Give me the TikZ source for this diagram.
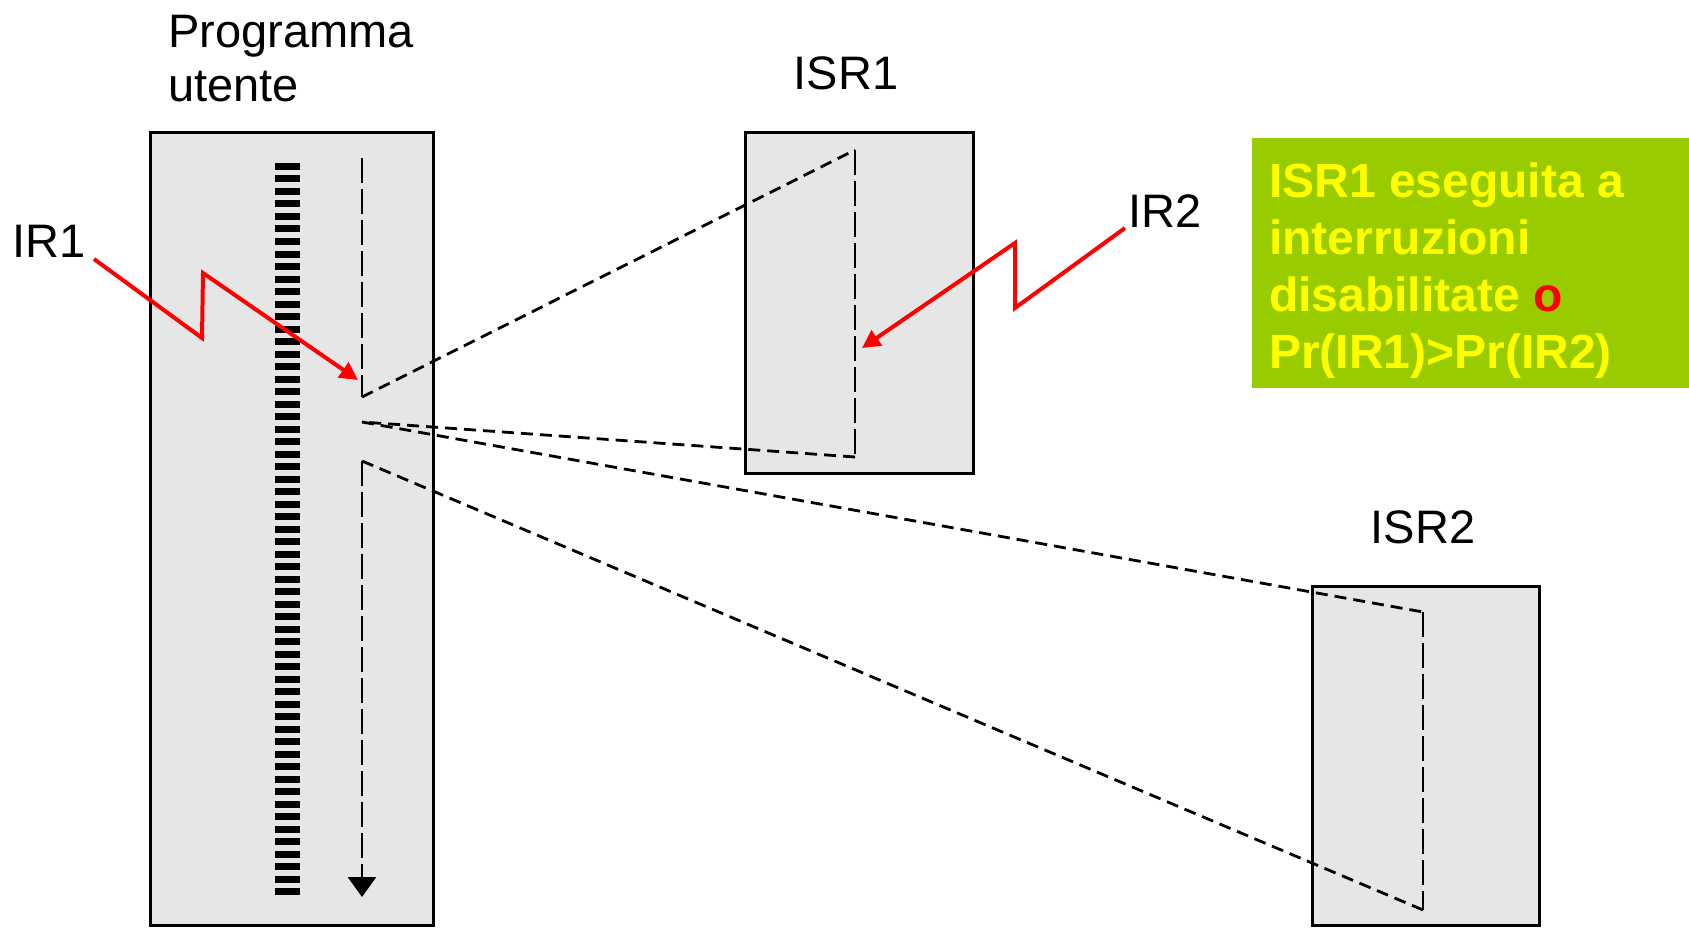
\documentclass[tikz,border=0pt]{standalone}
\usepackage{fontspec}
\setmainfont{Liberation Sans}
\usetikzlibrary{arrows.meta}
\definecolor{boxgray}{RGB}{230,230,230}
\definecolor{notegreen}{RGB}{153,204,0}
\definecolor{noteyellow}{RGB}{255,255,0}
\begin{document}
\begin{tikzpicture}[x=1pt,y=-1pt,
  routine/.style={draw=black, line width=3pt, fill=boxgray, inner sep=0pt, outer sep=0pt, anchor=north west},
  lbl/.style={font=\fontsize{47}{54}\selectfont, inner sep=0pt, anchor=base west},
  flow/.style={draw=black, line width=2.8pt, dash pattern=on 12pt off 7pt},
  vflow/.style={draw=black, line width=2.8pt, dash pattern=on 25pt off 6pt},
  irq/.style={draw=red, line width=4pt, -{Triangle[length=18pt,width=18pt]}},
  notetext/.style={font=\bfseries\fontsize{48}{57}\selectfont, text=noteyellow, inner sep=0pt, align=left, anchor=base west}
]
\useasboundingbox (0,0) rectangle (1689,928);

% boxes
\node[routine, minimum width=283pt, minimum height=792pt] (prog) at (150,133) {};
\node[routine, minimum width=228pt, minimum height=340pt] (isr1) at (745,133) {};
\node[routine, minimum width=227pt, minimum height=339pt] (isr2) at (1312,586) {};

% instruction stripes
\foreach \i in {0,...,58} \fill (275,163+\i*12.5) rectangle (300,170+\i*12.5);

% labels (base anchor of a multi-line node = last line)
\node[lbl, align=left] (proglbl) at (168,102) {Programma\\utente};
\node[lbl] (isr1lbl) at (793.6,90) {ISR1};
\node[lbl] (isr2lbl) at (1370.6,543) {ISR2};
\node[lbl] (ir1lbl) at (12.6,257) {IR1};
\node[lbl] (ir2lbl) at (1128.6,227) {IR2};

% flow points
\coordinate (p0) at (362,158);
\coordinate (p1) at (362,397);
\coordinate (a1) at (855,150);
\coordinate (b1) at (855,457);
\coordinate (p2) at (362,422);
\coordinate (a2) at (1423,612);
\coordinate (b2) at (1423,910);
\coordinate (p3) at (362,461);
\coordinate (p4) at (362,897);

\draw[vflow] (p0) -- (p1);
\draw[flow] (p1) -- (a1);
\draw[vflow] (a1) -- (b1);
\draw[flow] (b1) -- (p2);
\draw[flow] (p2) -- (a2);
\draw[vflow] (a2) -- (b2);
\draw[flow] (b2) -- (p3);
\draw[vflow, -{Triangle[length=20pt,width=28pt]}] (p3) -- (p4);

% interrupt requests
\coordinate (ir1s) at (94,259);
\coordinate (ir1z1) at (202,338);
\coordinate (ir1z2) at (203,273);
\coordinate (ir1t) at (358,380);
\draw[irq] (ir1s) -- (ir1z1) -- (ir1z2) -- (ir1t);

\coordinate (ir2s) at (1125,228);
\coordinate (ir2z1) at (1015,308);
\coordinate (ir2z2) at (1015,243);
\coordinate (ir2t) at (862,348);
\draw[irq] (ir2s) -- (ir2z1) -- (ir2z2) -- (ir2t);

% note
\node[fill=notegreen, inner sep=0pt, outer sep=0pt, anchor=north west, minimum width=437pt, minimum height=250pt] (note) at (1252,138) {};
\node[notetext] (notetxt) at (1269,368) {ISR1 eseguita a\\interruzioni\\disabilitate \textcolor{red}{o}\\Pr(IR1)>Pr(IR2)};
\end{tikzpicture}
\end{document}
